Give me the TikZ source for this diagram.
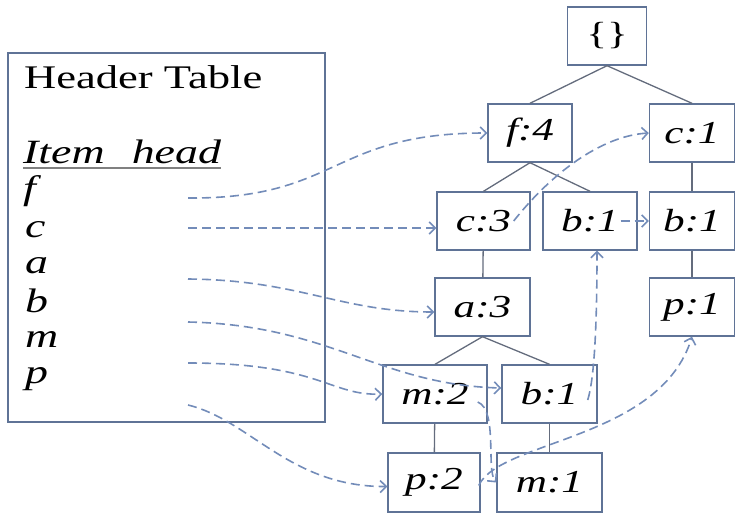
\documentclass[tikz,border=0pt]{standalone}
\usepackage{fontspec}
\setmainfont{Liberation Serif}[FakeStretch=1.35]
\usetikzlibrary{arrows.meta, positioning}
\definecolor{boxline}{RGB}{95, 115, 150}
\definecolor{linkblue}{RGB}{115, 140, 185}
\definecolor{edgegray}{RGB}{100, 108, 125}

\begin{document}
\begin{tikzpicture}[x=1pt, y=-1pt,
    treenode/.style={rectangle, draw=boxline, line width=1.4pt, fill=white,
                     minimum width=94pt, minimum height=58pt, inner sep=0pt,
                     font=\fontsize{32}{36}\selectfont\itshape},
    headtxt/.style={anchor=base west, inner sep=0pt,
                    font=\fontsize{34}{40}\selectfont\itshape},
    edge/.style={draw=edgegray, line width=1.3pt},
    link/.style={draw=linkblue, line width=1.6pt, dash pattern=on 9pt off 5pt,
                 -{Straight Barb[length=6pt, width=12pt]}}
]
\useasboundingbox (0,0) rectangle (738,514);

%% ── Header table ────────────────────────────────────────────────────────────
\node[draw=boxline, line width=1.4pt, minimum width=317pt, minimum height=369pt,
      inner sep=0pt] (table) at (166.5,237.5) {};
\node[anchor=base west, inner sep=0pt, font=\fontsize{33}{40}\selectfont]
      (title) at (24,88) {Header Table};
\node[headtxt] (itemhead) at (23,163) {Item\hspace{27pt}head};
\draw[gray, line width=2pt] ([yshift=-5pt]itemhead.base west) -- ([yshift=-5pt]itemhead.base east);
\node[headtxt] (itf) at (23,199) {f};
\node[headtxt] (itc) at (25,237) {c};
\node[headtxt] (ita) at (25,273) {a};
\node[headtxt] (itb) at (25,312) {b};
\node[headtxt] (itm) at (25,347) {m};
\node[headtxt] (itp) at (25,383) {p};

\coordinate (hf) at (188,198);
\coordinate (hc) at (188,228);
\coordinate (ha) at (188,279);
\coordinate (hb) at (188,322);
\coordinate (hm) at (188,363);
\coordinate (hp) at (188,405);

%% ── FP-tree ─────────────────────────────────────────────────────────────────
\node[treenode, minimum width=79pt] (root) at (607,36) {\upshape\{\}};
\node[treenode, minimum width=84pt] (f4)  at (530,133) {f:4};
\node[treenode, minimum width=85pt] (c1)  at (692,133) {c:1};
\node[treenode, minimum width=93pt] (c3)  at (483.5,221) {c:3};
\node[treenode]                     (b1m) at (590,221) {b:1};
\node[treenode, minimum width=85pt] (b1r) at (692,221) {b:1};
\node[treenode, minimum width=95pt] (a3)  at (482.5,307) {a:3};
\node[treenode, minimum width=85pt] (p1)  at (692,307) {p:1};
\node[treenode, minimum width=104pt] (m2) at (435,394) {m:2};
\node[treenode, minimum width=95pt] (b1l) at (549.5,394) {b:1};
\node[treenode, minimum width=92pt, minimum height=59pt] (p2) at (434,482.5) {p:2};
\node[treenode, minimum width=105pt, minimum height=59pt] (m1) at (549.5,482.5) {m:1};

\draw[edge] (root.south) -- (f4.north);
\draw[edge] (root.south) -- (c1.north);
\draw[edge] (f4.south) -- (c3.north);
\draw[edge] (f4.south) -- (b1m.north);
\draw[edge] (c1) -- (b1r);
\draw[edge] (b1r) -- (p1);
\draw[edge] (c3) -- (a3);
\draw[edge] (a3.south) -- (m2.north);
\draw[edge] (a3.south) -- (b1l.north);
\draw[edge] (m2) -- (p2);
\draw[edge] (b1l) -- (m1);

%% ── Node-links ──────────────────────────────────────────────────────────────
\draw[link] (hf) .. controls (340,199) and (330,133) .. (f4.west);
\draw[link] (hc) -- (hc -| c3.west);
\draw[link] ([xshift=-17pt]c3.east) .. controls (550,175) and (600,136) .. (c1.west);
\draw[link] ([xshift=-17pt]b1m.east) -- (b1r.west);
\draw[link] (ha) .. controls (300,280) and (340,312) .. ([yshift=-5pt]a3.west);
\draw[link] (hb) .. controls (330,325) and (380,385) .. ([yshift=6pt]b1l.west);
\draw[link] ([xshift=-10pt, yshift=-6pt]b1l.east) .. controls (594,380) and (597,330) .. ([xshift=7pt]b1m.south);
\draw[link] (hm) .. controls (320,363) and (330,396) .. (m2.west);
\draw[link] ([xshift=-10pt, yshift=-8pt]m2.east) .. controls (498,410) and (486,470) .. (m1.west);
\draw[link] (hp) .. controls (250,420) and (290,487) .. ([yshift=-4pt]p2.west);
\draw[link] ([xshift=-2pt, yshift=-3pt]p2.east) .. controls (500,440) and (660,440) .. (p1.south);

\end{tikzpicture}
\end{document}
